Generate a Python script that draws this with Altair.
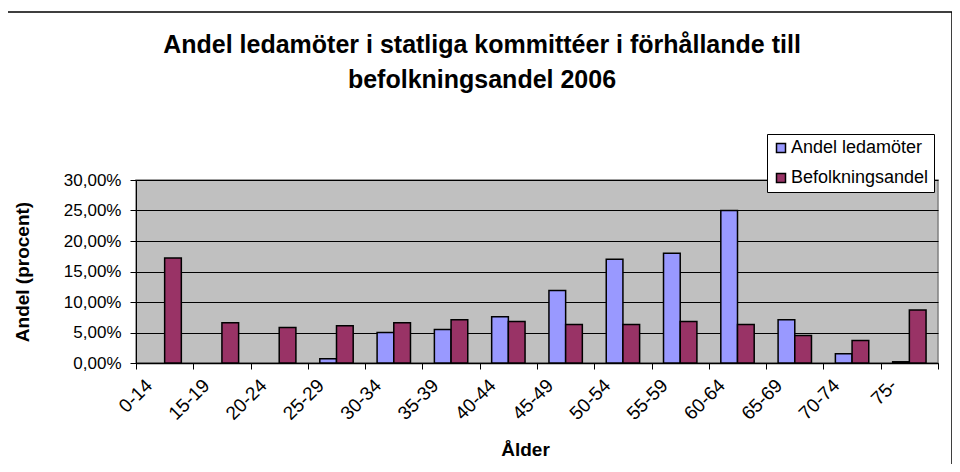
import altair as alt
import pandas as pd

categories = ["0-14", "15-19", "20-24", "25-29", "30-34", "35-39", "40-44",
              "45-49", "50-54", "55-59", "60-64", "65-69", "70-74", "75-"]
andel_ledamoter = [0, 0, 0, 0.7, 5.0, 5.5, 7.6, 11.9, 17.0, 18.0, 25.0, 7.1, 1.5, 0.2]
befolkningsandel = [17.2, 6.6, 5.8, 6.1, 6.6, 7.1, 6.8, 6.3, 6.3, 6.8, 6.3, 4.5, 3.7, 8.7]
series = ["Andel ledamöter", "Befolkningsandel"]
colors = ["#9999FF", "#993366"]
y_ticks = [0, 5, 10, 15, 20, 25, 30]

rows = []
for i, c in enumerate(categories):
    rows.append({"age": c, "series": series[0], "value": andel_ledamoter[i]})
    rows.append({"age": c, "series": series[1], "value": befolkningsandel[i]})
df = pd.DataFrame(rows)

FONT = "Liberation Sans"

x_axis = alt.Axis(title="Ålder", labelAngle=-45, labelAlign="right", labelBaseline="middle",
                  labelFontSize=19, labelFont=FONT, labelColor="black",
                  tickBand="extent", tickSize=6, tickColor="black", domainColor="black",
                  domainWidth=1.5, labelPadding=13, labelOffset=-16,
                  titleFont=FONT, titleFontSize=19, titleFontWeight="bold", titleColor="black",
                  titleX=389, titleY=92, titleBaseline="alphabetic")

y_axis = alt.Axis(title="Andel (procent)", values=y_ticks,
                  labelExpr="replace(format(datum.value, '.2f'), '.', ',') + '%'",
                  labelFontSize=17, labelFont=FONT, labelColor="black",
                  tickSize=6, tickColor="black", domainColor="black", labelPadding=9,
                  grid=True, gridColor="black", gridWidth=1,
                  titleFont=FONT, titleFontSize=19, titleFontWeight="bold", titleColor="black",
                  titleX=-114, titleY=91.5, titleBaseline="middle", titleAlign="center")

bars = alt.Chart(df).transform_filter("datum.value > 0").mark_bar(
    stroke="black", strokeWidth=1.5
).encode(
    x=alt.X("age:N", scale=alt.Scale(domain=categories, paddingInner=0, paddingOuter=0), axis=x_axis),
    xOffset=alt.XOffset("series:N", scale=alt.Scale(domain=series, paddingInner=0, paddingOuter=0.716)),
    y=alt.Y("value:Q", scale=alt.Scale(domain=[0, 30]), axis=y_axis),
    color=alt.Color("series:N", scale=alt.Scale(domain=series, range=colors),
                    legend=alt.Legend(title=None, orient="none", legendX=631, legendY=-46,
                                      fillColor="white", strokeColor="black", padding=5,
                                      labelFontSize=18, labelFont=FONT, labelColor="black",
                                      symbolType="square", symbolSize=81, symbolStrokeColor="black",
                                      symbolStrokeWidth=1.5, rowPadding=12, labelOffset=1))
)

frame = alt.Chart(alt.Data(values=[{"k": 1}])).mark_rect(
    filled=False, stroke="black", strokeWidth=1.5
).encode(
    x=alt.value(-132), x2=alt.value(816), y=alt.value(-168), y2=alt.value(330)
)

chart = alt.layer(frame, bars).properties(
    width=802, height=183,
    autosize=alt.AutoSizeParams(type="none"),
    padding={"left": 128, "top": 172, "right": 14, "bottom": 101},
    title=alt.Title(
        ["Andel ledamöter i statliga kommittéer i förhållande till", "befolkningsandel 2006"],
        fontSize=25, font=FONT, fontWeight="bold", color="black", lineHeight=35,
        anchor="middle", dx=-55, offset=-82
    )
).configure_view(fill="#C0C0C0", stroke="#808080", strokeWidth=1.5)

chart.save("out.html", embed_options={"renderer": "svg", "actions": False})
